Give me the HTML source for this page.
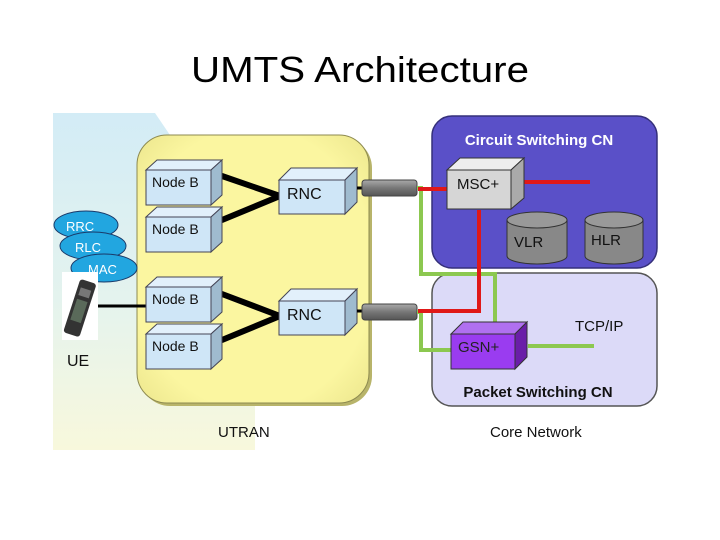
<!DOCTYPE html>
<html><head><style>
html,body{margin:0;padding:0;background:#fff;width:720px;height:540px;overflow:hidden}
svg{display:block}
text{font-family:"Liberation Sans",sans-serif}
</style></head><body>
<svg width="720" height="540" viewBox="0 0 720 540" xmlns="http://www.w3.org/2000/svg">
<defs>
<linearGradient id="bg" x1="0" y1="0" x2="0" y2="1">
<stop offset="0" stop-color="#d3ecf6"/><stop offset="0.55" stop-color="#e4f3ee"/><stop offset="1" stop-color="#f8f8dc"/>
</linearGradient>
<linearGradient id="cyl" x1="0" y1="0" x2="0" y2="1">
<stop offset="0" stop-color="#aaa"/><stop offset="0.5" stop-color="#777"/><stop offset="1" stop-color="#555"/>
</linearGradient>
<radialGradient id="yel" cx="0.5" cy="0.5" r="0.75">
<stop offset="0.7" stop-color="#fbf6a0"/><stop offset="1" stop-color="#e8e288"/>
</radialGradient>
</defs>
<text x="360" y="82" font-size="36" text-anchor="middle" textLength="338" lengthAdjust="spacingAndGlyphs" fill="#000">UMTS Architecture</text>

<path d="M53 113 L155 113 L172 138 L172 395 L255 395 L255 450 L53 450 Z" fill="url(#bg)"/>

<rect x="140" y="138" width="232" height="268" rx="30" fill="#b8b46a"/>
<rect x="137" y="135" width="232" height="268" rx="30" fill="url(#yel)" stroke="#8d8a50" stroke-width="1"/>

<rect x="432" y="116" width="225" height="152" rx="20" fill="#5a50c8" stroke="#35307a" stroke-width="1.5"/>
<text x="539" y="145" font-size="15" font-weight="bold" fill="#fff" text-anchor="middle">Circuit Switching CN</text>
<rect x="432" y="273" width="225" height="133" rx="20" fill="#dcdaf8" stroke="#555" stroke-width="1.5"/>
<text x="538" y="397" font-size="15" font-weight="bold" fill="#111" text-anchor="middle">Packet Switching CN</text>

<g stroke="#000" stroke-width="6" stroke-linecap="round">
<line x1="222" y1="176" x2="280" y2="196"/>
<line x1="222" y1="220" x2="280" y2="196"/>
<line x1="222" y1="294" x2="280" y2="316"/>
<line x1="222" y1="340" x2="280" y2="316"/>
</g>
<line x1="98" y1="306" x2="147" y2="306" stroke="#000" stroke-width="3"/>

<g stroke="#445" stroke-width="1" fill="#cfe6f7">
<g id="nb">
<path d="M146 170 L157 160 L222 160 L211 170 Z" fill="#e2f0fb"/>
<path d="M211 170 L222 160 L222 195 L211 205 Z" fill="#9fbbcf"/>
<rect x="146" y="170" width="65" height="35"/>
</g>
<use href="#nb" y="47"/>
<use href="#nb" y="117"/>
<use href="#nb" y="164"/>
<g id="rnc">
<path d="M279 180 L291 168 L357 168 L345 180 Z" fill="#e2f0fb"/>
<path d="M345 180 L357 168 L357 202 L345 214 Z" fill="#9fbbcf"/>
<rect x="279" y="180" width="66" height="34"/>
</g>
<use href="#rnc" y="121"/>
</g>
<g font-size="14" fill="#111">
<text x="152" y="187">Node B</text>
<text x="152" y="234">Node B</text>
<text x="152" y="304">Node B</text>
<text x="152" y="351">Node B</text>
<text x="287" y="199" font-size="16">RNC</text>
<text x="287" y="320" font-size="16">RNC</text>
</g>

<line x1="357" y1="188" x2="364" y2="188" stroke="#000" stroke-width="3"/>
<line x1="357" y1="311" x2="364" y2="311" stroke="#000" stroke-width="3"/>
<rect x="362" y="180" width="55" height="16" rx="3" fill="url(#cyl)" stroke="#444"/>
<rect x="362" y="304" width="55" height="16" rx="3" fill="url(#cyl)" stroke="#444"/>

<g stroke="#8cc850" stroke-width="4" fill="none">
<polyline points="417,188 421,188 421,274 495,274 495,324"/>
<polyline points="417,312 421,312 421,350 452,350"/>
<line x1="528" y1="346" x2="594" y2="346"/>
</g>
<g stroke="#e01818" stroke-width="4" fill="none">
<line x1="418" y1="189" x2="447" y2="189"/>
<line x1="515" y1="182" x2="590" y2="182"/>
<polyline points="479,210 479,311 418,311"/>
</g>

<g stroke="#333" stroke-width="1">
<path d="M447 170 L460 158 L524 158 L511 170 Z" fill="#eee"/>
<path d="M511 170 L524 158 L524 198 L511 209 Z" fill="#aaa"/>
<rect x="447" y="170" width="64" height="39" fill="#d6d6d6"/>
</g>
<text x="457" y="189" font-size="15" fill="#111">MSC+</text>

<g stroke="#333" stroke-width="1">
<path d="M507 220 L507 256 A30 8 0 0 0 567 256 L567 220" fill="#888"/>
<ellipse cx="537" cy="220" rx="30" ry="8" fill="#999"/>
<path d="M585 220 L585 256 A29 8 0 0 0 643 256 L643 220" fill="#888"/>
<ellipse cx="614" cy="220" rx="29" ry="8" fill="#999"/>
</g>
<text x="514" y="247" font-size="15" fill="#111">VLR</text>
<text x="591" y="245" font-size="15" fill="#111">HLR</text>

<g stroke="#333" stroke-width="1">
<path d="M451 334 L463 322 L527 322 L515 334 Z" fill="#b070f0"/>
<path d="M515 334 L527 322 L527 357 L515 369 Z" fill="#6a1ea8"/>
<rect x="451" y="334" width="64" height="35" fill="#9a3cf0"/>
</g>
<text x="458" y="352" font-size="15" fill="#222">GSN+</text>
<text x="575" y="331" font-size="15" fill="#111">TCP/IP</text>

<g stroke="#1a3a6a" stroke-width="1" fill="#22a6e0">
<ellipse cx="86" cy="225" rx="32" ry="14"/>
<ellipse cx="93" cy="246" rx="33" ry="14"/>
<ellipse cx="104" cy="268" rx="33" ry="14"/>
</g>
<g font-size="13" fill="#fff">
<text x="66" y="231">RRC</text>
<text x="75" y="252">RLC</text>
<text x="88" y="274">MAC</text>
</g>
<rect x="62" y="272" width="36" height="68" fill="#fff"/>
<g transform="rotate(18 80 306)">
<rect x="72" y="280" width="17" height="56" rx="3" fill="#333"/>
<rect x="75" y="288" width="11" height="8" fill="#777"/>
<rect x="75" y="300" width="11" height="22" fill="#5a6a5a"/>
</g>
<text x="67" y="366" font-size="16" fill="#111">UE</text>
<text x="218" y="437" font-size="15" fill="#111">UTRAN</text>
<text x="490" y="437" font-size="15" fill="#111">Core Network</text>
</svg>
</body></html>
